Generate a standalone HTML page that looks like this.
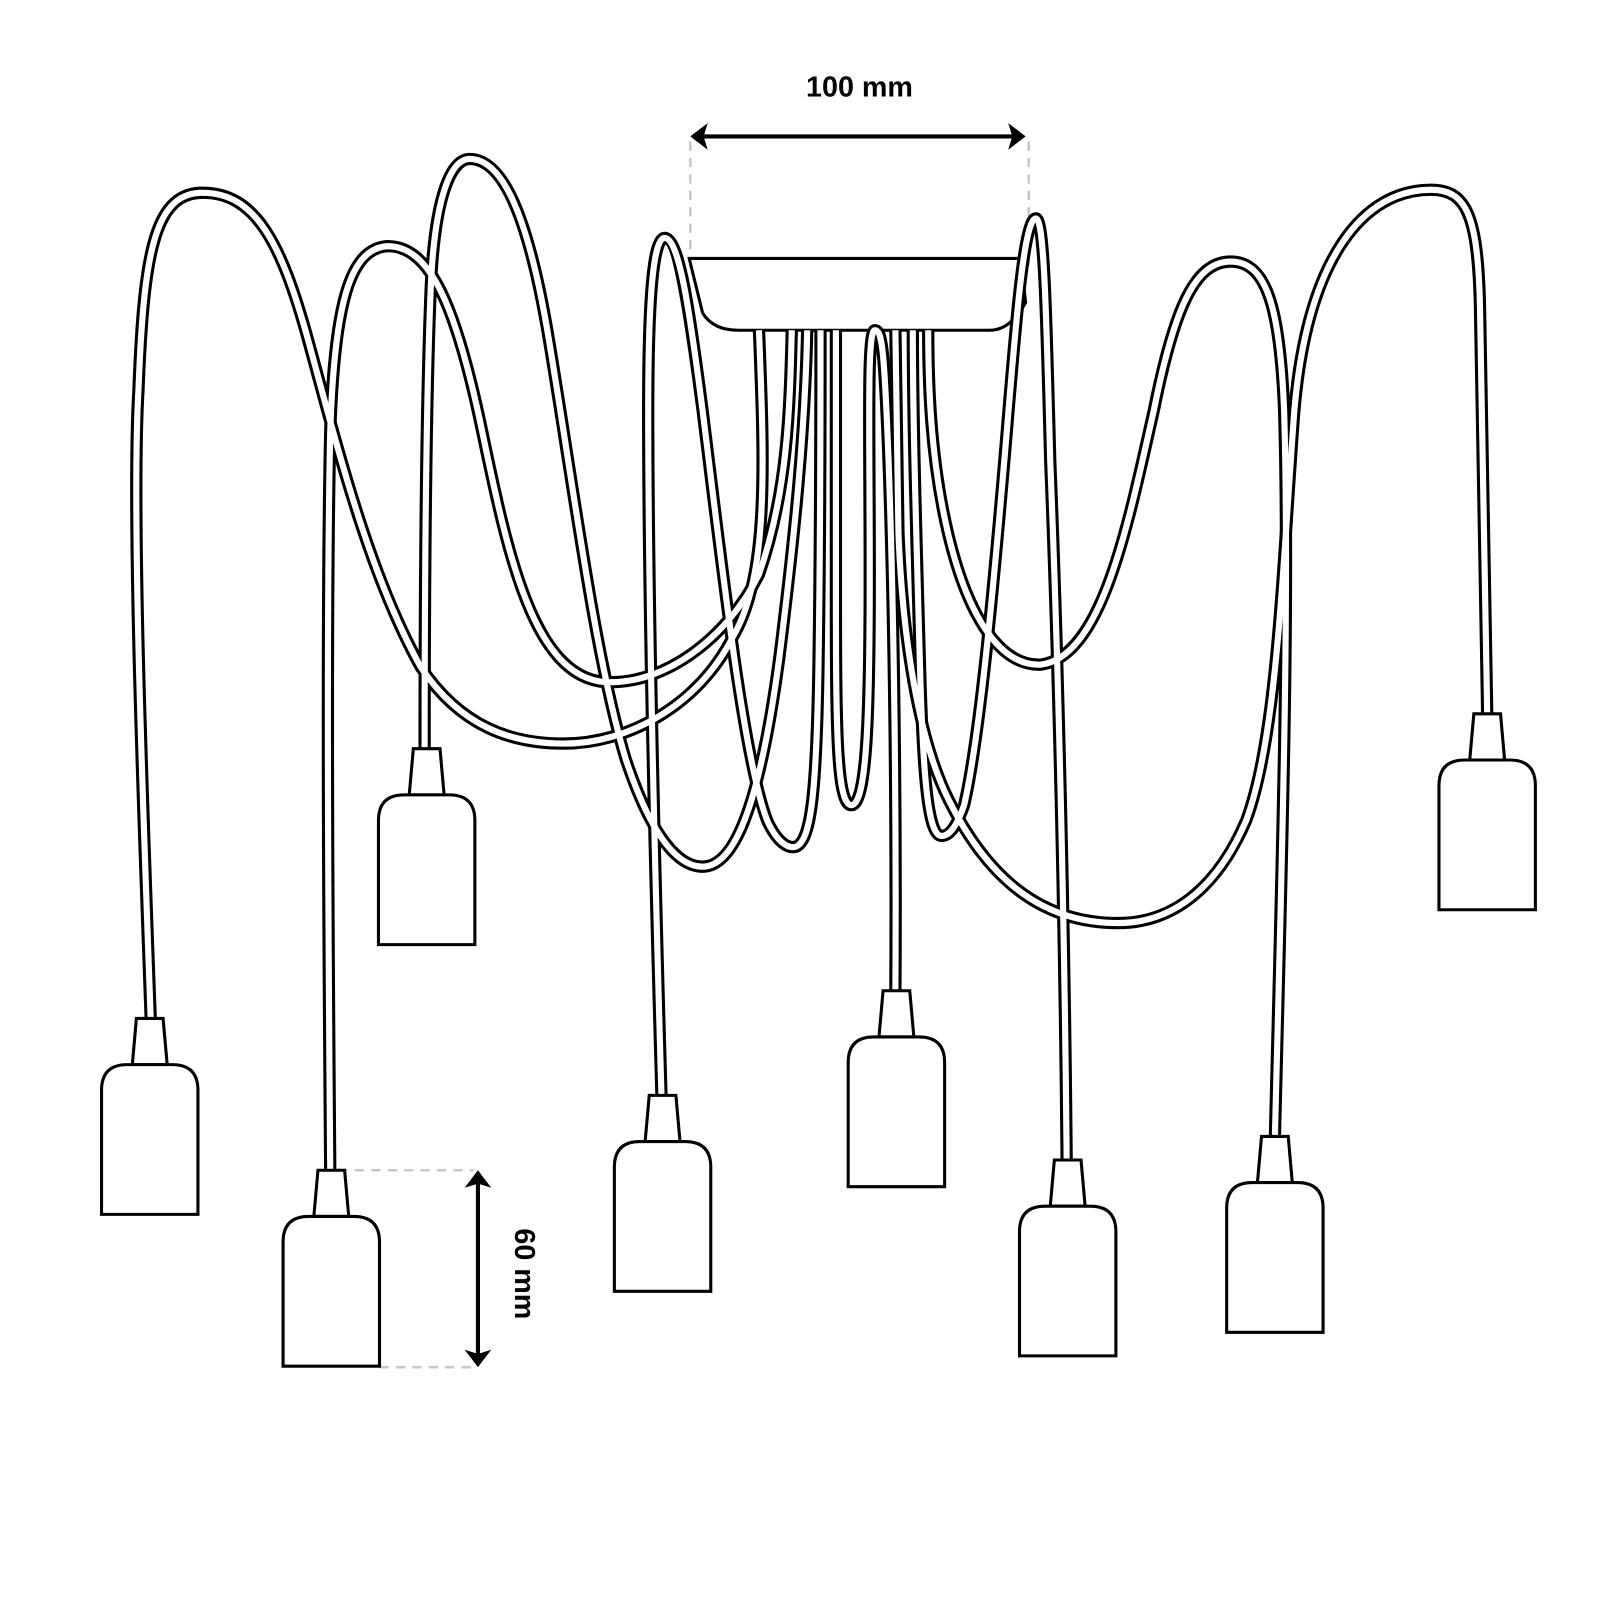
<!DOCTYPE html>
<html><head><style>html,body{margin:0;padding:0;background:#fff}svg{display:block}</style></head>
<body>
<svg width="1600" height="1600" viewBox="0 0 1560 1560" xmlns="http://www.w3.org/2000/svg">
<rect width="1560" height="1560" fill="#fff"/>
<defs>
<g id="lamp">
<path d="M-13,0 L13,0 L17,45 L-17,45 Z"/>
<path d="M-47,191 L-47,70 Q-47,45 -22,45 L22,45 Q47,45 47,70 L47,191 Z"/>
</g>
<g id="cords">
<path d="M147,995 C140,800 128,500 135,380 C140,250 150,190 195,188 C250,186 275,240 300,330 C330,440 360,560 410,650 C450,710 500,725 550,725 C610,725 680,690 715,620 C750,560 745,450 740,322"/>
<path d="M322,1143 C320,900 318,600 322,420 C326,300 340,242 378,240 C420,240 445,300 470,420 C495,540 520,660 590,665 C650,668 710,620 740,560 C768,480 770,400 772,322"/>
<path d="M414,732 C414,600 415,400 420,280 C424,190 440,155 458,155 C490,155 515,210 535,330 C560,480 580,640 610,740 C630,800 655,845 685,845 C715,845 740,790 760,640 C775,520 785,420 787,322"/>
<path d="M645,1070 C640,900 632,600 632,400 C632,300 636,232 648,232 C662,232 672,300 685,400 C705,560 725,740 748,800 C758,822 768,826 773,826 C790,826 796,780 798,650 C800,520 800,420 800,322"/>
<path d="M873,968 C874,800 872,600 866,440 C862,340 860,322 853,322 C845,322 848,420 848,560 C848,700 845,785 830,785 C815,785 815,700 815,560 C815,450 815,380 815,322"/>
<path d="M1040,1133 C1038,900 1032,650 1024,450 C1020,300 1018,213 1010,213 C998,213 990,320 980,440 C968,580 955,720 940,785 C932,808 925,815 918,815 C905,815 900,760 897,650 C894,540 890,420 890,322"/>
<path d="M1243,1110 C1248,900 1258,600 1252,400 C1248,300 1235,255 1200,255 C1165,255 1145,300 1125,400 C1100,510 1075,640 1015,648 C975,650 940,600 920,500 C908,440 905,380 905,322"/>
<path d="M1450,698 C1448,550 1445,400 1443,300 C1441,210 1430,185 1395,185 C1330,185 1275,250 1262,400 C1250,560 1245,720 1215,800 C1185,870 1140,900 1090,900 C1010,900 960,850 925,780 C895,720 880,620 876,520 C874,420 873,360 873,322"/>
</g>
</defs>
<g fill="none" stroke="#c8c8c8" stroke-width="2.5" stroke-dasharray="9,7">
<line x1="673" y1="138" x2="673" y2="250"/>
<line x1="1003" y1="138" x2="1003" y2="262"/>
<line x1="330" y1="1141" x2="462" y2="1141"/>
<line x1="370" y1="1333" x2="462" y2="1333"/>
</g>
<path d="M672,252 L995,252 L1000,295 Q985,322 965,322 L720,322 Q695,322 685,305 Z" fill="#fff" stroke="#000" stroke-width="3"/>
<g fill="none" stroke-linecap="butt" stroke-linejoin="round">
<use href="#cords" stroke="#000" stroke-width="12"/>
<use href="#cords" stroke="#fff" stroke-width="6"/>
</g>
<g fill="#fff" stroke="#000" stroke-width="3">
<use href="#lamp" transform="translate(146,993)"/>
<use href="#lamp" transform="translate(323,1141)"/>
<use href="#lamp" transform="translate(416,730)"/>
<use href="#lamp" transform="translate(646,1068)"/>
<use href="#lamp" transform="translate(874,966)"/>
<use href="#lamp" transform="translate(1041,1131)"/>
<use href="#lamp" transform="translate(1243,1108)"/>
<use href="#lamp" transform="translate(1450,696)"/>
</g>
<g stroke="#000" stroke-width="4">
<line x1="685" y1="133" x2="988" y2="133"/>
<line x1="466" y1="1153" x2="466" y2="1321"/>
</g>
<g fill="#000">
<path d="M673,133 L690,120 L686,133 L690,146 Z"/>
<path d="M1000,133 L983,120 L987,133 L983,146 Z"/>
<path d="M466,1141 L453,1158 L466,1154 L479,1158 Z"/>
<path d="M466,1333 L453,1316 L466,1320 L479,1316 Z"/>
</g>
<text x="838" y="94" font-family="Liberation Sans, sans-serif" font-weight="bold" font-size="28" text-anchor="middle">100 mm</text>
<text transform="translate(502,1242) rotate(90)" font-family="Liberation Sans, sans-serif" font-weight="bold" font-size="28" text-anchor="middle">60 mm</text>
</svg>
</body></html>
